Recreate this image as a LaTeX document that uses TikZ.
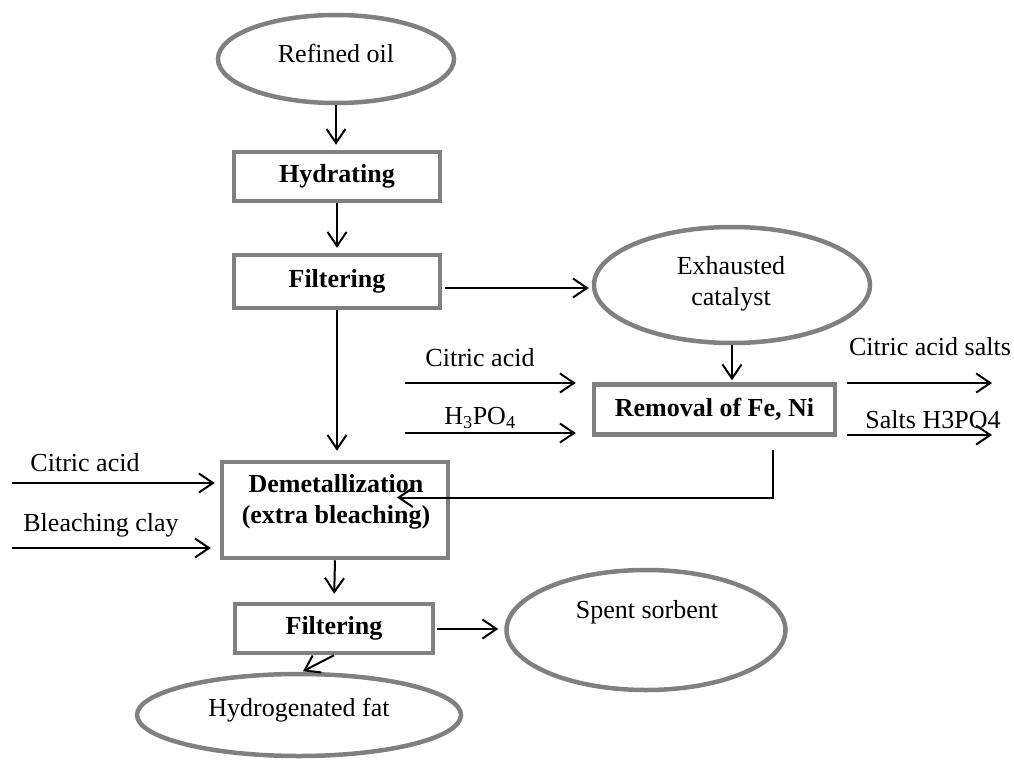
\documentclass[tikz,border=0pt]{standalone}
\usepackage{fontspec}
\setmainfont{Liberation Serif}
\usetikzlibrary{arrows.meta,shapes.geometric,calc}
\definecolor{gboxc}{RGB}{128,128,128}
\newcommand\myfs{\fontsize{26}{31}\selectfont}
\begin{document}
\begin{tikzpicture}[x=1pt,y=-1pt,
  box/.style={draw=gboxc,line width=4.5pt,rectangle,inner sep=0pt,font=\bfseries\myfs},
  oval/.style={draw=gboxc,line width=4.5pt,ellipse,inner sep=0pt},
  txt/.style={font=\myfs,inner sep=0pt},
  arr/.style={line width=2pt,-{Straight Barb[length=14pt,width=19pt,line width=2pt]}}]
\path[use as bounding box,fill=white] (0,0) rectangle (1014,760);

% nodes
\node[oval,minimum width=236,minimum height=88] (oil) at (336,59) {};
\node[txt] (oilT) at (336,53) {Refined oil};
\node[box,minimum width=206,minimum height=49] (hyd) at (337,176.5) {Hydrating};
\node[box,minimum width=206,minimum height=53] (filt1) at (337,281.5) {Filtering};
\node[oval,minimum width=276,minimum height=116] (cat) at (732,285) {};
\node[txt,align=center] (catT) at (731,284) {Exhausted\\catalyst};
\node[box,minimum width=241,minimum height=50] (rem) at (714.5,409.5) {Removal of Fe, Ni};
\node[box,minimum width=226,minimum height=96] (demet) at (335,510) {};
\node[txt,font=\bfseries\myfs,align=center] (demT) at (336,502) {Demetallization\\(extra bleaching)};
\node[box,minimum width=198,minimum height=49] (filt2) at (334,628.5) {Filtering};
\node[oval,minimum width=279,minimum height=120] (spent) at (646,630) {};
\node[txt] (spentT) at (647,612) {Spent sorbent};
\node[oval,minimum width=324,minimum height=82] (fat) at (299,715) {};
\node[txt] (fatT) at (299,710) {Hydrogenated fat};

% side labels
\node[txt] (lca) at (480,358) {Citric acid};
\node[txt] (lh3) at (480,418) {H\textsubscript{3}PO\textsubscript{4}};
\node[txt] (lcs) at (930,347) {Citric acid salts};
\node[txt] (lsh) at (933,420) {Salts H3PO4};
\node[txt] (lca2) at (85,463) {Citric acid};
\node[txt] (lbc) at (101,525) {Bleaching clay};

% coordinates
\coordinate (a1) at (445,288);
\coordinate (ca2s) at (405,383);
\coordinate (h3s) at (405,433);
\coordinate (cs1) at (847,383);
\coordinate (ce1) at (992,383);
\coordinate (cs2) at (847,435);
\coordinate (ce2) at (992,435);
\coordinate (r0) at (773,450);
\coordinate (lc) at (12,483);
\coordinate (bc) at (12,548);
\coordinate (f2s) at (437,629);

% connectors
\draw[arr,shorten >=5pt] (oil.south) -- (oil.south |- hyd.north);
\draw[arr,shorten >=5pt] (hyd.south) -- (filt1.north);
\draw[arr,shorten >=3pt] (a1) -- (a1 -| cat.west);
\draw[arr,shorten >=9pt] (filt1.south) -- (filt1.south |- demet.north);
\draw[arr,shorten >=2pt] (cat.south) -- (cat.south |- rem.north);
\draw[arr,shorten >=16pt] (ca2s) -- (ca2s -| rem.west);
\draw[arr,shorten >=16pt] (h3s) -- (h3s -| rem.west);
\draw[arr] (cs1) -- (ce1);
\draw[arr] (cs2) -- (ce2);
\draw[arr] (r0) |- ($(demet.center)+(62,-12.5)$);
\draw[arr,shorten >=5pt] (lc) -- (lc -| demet.west);
\draw[arr,shorten >=9pt] (bc) -- (bc -| demet.west);
\draw[arr,shorten >=8pt] (demet.south) -- (filt2.north);
\draw[arr,shorten >=6pt] (f2s) -- (f2s -| spent.west);
\draw[arr] (filt2.south) -- ($(filt2.south)+(-31,16)$);
\end{tikzpicture}
\end{document}
